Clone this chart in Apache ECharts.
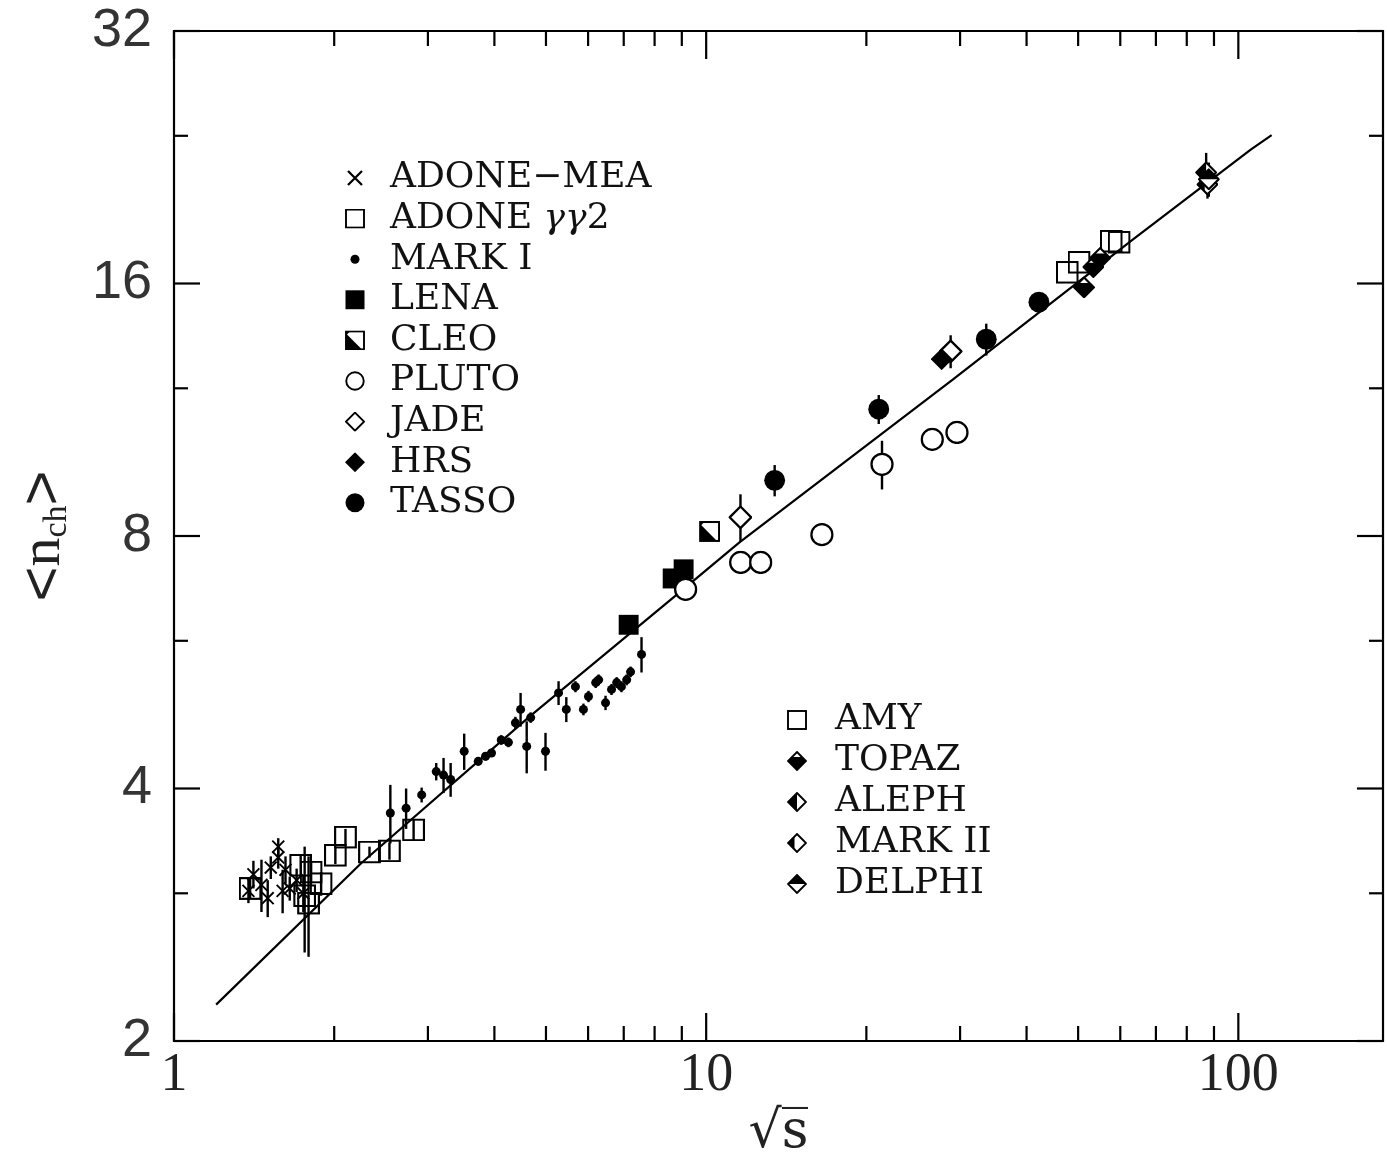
<!DOCTYPE html>
<html>
<head>
<meta charset="utf-8">
<script src="https://cdn.jsdelivr.net/npm/echarts@6/dist/echarts.min.js"></script>
<style>
html,body{margin:0;padding:0;background:#fff;}
#chart{width:1387px;height:1168px;}
</style>
</head>
<body>
<div id="chart"></div>
<script>
// ---------------- data ----------------
// each point: [sqrt(s) in GeV, <n_ch>, symmetric error]
const xTickLabels = [1, 10, 100];
const yTickLabels = [2, 4, 8, 16, 32];
const xMinorTicks = [2, 3, 4, 5, 6, 7, 8, 9, 20, 30, 40, 50, 60, 70, 80, 90];
const yMinorTicks = [3, 6, 12, 24];

const adoneMea = [
  [1.38, 3.02, 0.10], [1.41, 3.16, 0.12], [1.46, 3.07, 0.22], [1.50, 2.96, 0.15],
  [1.52, 3.22, 0.10], [1.57, 3.31, 0.10], [1.57, 3.41, 0.08], [1.60, 3.02, 0.18],
  [1.62, 3.20, 0.12], [1.65, 3.04, 0.10], [1.70, 3.11, 0.10], [1.75, 3.00, 0.15]
];
const adoneGG2 = [
  [1.39, 3.04, 0.08], [1.73, 3.24, 0.10], [1.76, 2.98, 0.43], [1.79, 2.92, 0.40],
  [1.81, 3.18, 0.10], [1.89, 3.08, 0.10], [2.01, 3.33, 0.08], [2.10, 3.50, 0.08],
  [2.33, 3.36, 0.05], [2.54, 3.37, 0.08], [2.82, 3.57, 0.10]
];
const markI = [
  [2.55, 3.74, 0.30], [2.73, 3.79, 0.21], [2.92, 3.93, 0.08], [3.11, 4.19, 0.10],
  [3.21, 4.15, 0.20], [3.31, 4.10, 0.19], [3.51, 4.43, 0.22], [3.73, 4.31, 0.05],
  [3.85, 4.37, 0.05], [3.95, 4.41, 0.05], [4.12, 4.57, 0.06], [4.25, 4.54, 0.06],
  [4.38, 4.79, 0.08], [4.48, 4.97, 0.23], [4.60, 4.49, 0.32], [4.68, 4.86, 0.07],
  [4.99, 4.43, 0.23], [5.28, 5.20, 0.17], [5.46, 4.97, 0.17], [5.68, 5.29, 0.08],
  [5.88, 4.97, 0.08], [6.01, 5.15, 0.08], [6.20, 5.35, 0.08], [6.28, 5.39, 0.08],
  [6.47, 5.06, 0.10], [6.64, 5.25, 0.08], [6.79, 5.35, 0.08], [6.93, 5.29, 0.08],
  [7.09, 5.39, 0.08], [7.21, 5.51, 0.08], [7.56, 5.78, 0.28]
];
const lena = [[7.15, 6.27, 0], [8.65, 7.12, 0], [9.07, 7.30, 0]];
const cleo = [[10.15, 8.10, 0]];
const pluto = [
  [9.15, 6.91, 0], [11.61, 7.44, 0], [12.66, 7.44, 0], [16.5, 8.03, 0],
  [21.4, 9.74, 0.65], [26.6, 10.43, 0], [29.6, 10.63, 0]
];
const jade = [[11.6, 8.42, 0.55], [28.8, 13.28, 0.60]];
const hrs = [[27.7, 13.0, 0]];
const tasso = [[13.45, 9.32, 0.40], [21.1, 11.33, 0.45], [33.6, 13.73, 0.60], [42.2, 15.20, 0.30]];
const amy = [[47.7, 16.5, 0], [50.2, 16.96, 0], [57.7, 17.97, 0], [59.7, 17.92, 0]];
const topaz = [[51.3, 15.83, 0], [53.4, 16.74, 0], [55.0, 17.16, 0]];
const aleph = [[87.0, 21.7, 1.2]];
const markII = [[87.5, 21.0, 0.8]];
const delphi = [[88.0, 21.3, 1.0]];
const fitCurve = [
  [1.20, 2.21], [2.25, 3.26], [4.65, 4.87], [8.9, 6.85], [11.55, 7.86],
  [29.1, 12.3], [63.5, 18.07], [105.5, 23.1], [115.5, 24.05]
];

// ---------------- symbols ----------------
function svg(inner) {
  return 'image://data:image/svg+xml;charset=utf-8,' + encodeURIComponent(
    '<svg xmlns="http://www.w3.org/2000/svg" width="40" height="40" viewBox="0 0 40 40">' + inner + '</svg>');
}
const S = 'stroke="#000" stroke-width="3.8"';
const DIA = '20,2 38,20 20,38 2,20';
const SYM = {
  cross: svg('<path d="M6,6 L34,34 M34,6 L6,34" fill="none" stroke="#000" stroke-width="4.5"/>'),
  openSquare: svg('<rect x="2" y="2" width="36" height="36" fill="none" ' + S + '/>'),
  dot: svg('<circle cx="20" cy="20" r="9" fill="#000"/>'),
  filledSquare: svg('<rect x="1" y="1" width="38" height="38" fill="#000"/>'),
  cleo: svg('<rect x="2" y="2" width="36" height="36" fill="#fff" ' + S + '/><polygon points="2,6 34,38 2,38" fill="#000"/><polygon points="2,2 10,2 2,10" fill="#000"/>'),
  openCircle: svg('<circle cx="20" cy="20" r="17.5" fill="#fff" ' + S + '/>'),
  openDiamond: svg('<polygon points="' + DIA + '" fill="#fff" ' + S + '/>'),
  filledDiamond: svg('<polygon points="20,0 40,20 20,40 0,20" fill="#000"/>'),
  filledCircle: svg('<circle cx="20" cy="20" r="19" fill="#000"/>'),
  topaz: svg('<polygon points="' + DIA + '" fill="#fff" ' + S + '/><polygon points="10,12 30,12 38,20 20,38 2,20" fill="#000"/>'),
  aleph: svg('<polygon points="' + DIA + '" fill="#fff" ' + S + '/><polygon points="20,2 20,38 2,20" fill="#000"/>'),
  markII: svg('<polygon points="' + DIA + '" fill="#fff" ' + S + '/><polygon points="15,7 15,33 2,20" fill="#000"/>'),
  delphi: svg('<polygon points="' + DIA + '" fill="#fff" ' + S + '/><polygon points="20,2 38,20 2,20" fill="#000"/>')
};

// ---------------- options ----------------
const X_MIN = 1, X_MAX = 187, Y_MIN = 2, Y_MAX = 32;

const experiments = [
  { name: 'ADONE\u2212MEA', data: adoneMea, sym: SYM.cross, size: 17 },
  { name: 'ADONE \u03b3\u03b32', data: adoneGG2, sym: SYM.openSquare, size: 23 },
  { name: 'MARK I', data: markI, sym: SYM.dot, size: 20 },
  { name: 'LENA', data: lena, sym: SYM.filledSquare, size: 21 },
  { name: 'CLEO', data: cleo, sym: SYM.cleo, size: 21 },
  { name: 'PLUTO', data: pluto, sym: SYM.openCircle, size: 24 },
  { name: 'JADE', data: jade, sym: SYM.openDiamond, size: 24 },
  { name: 'HRS', data: hrs, sym: SYM.filledDiamond, size: 22 },
  { name: 'TASSO', data: tasso, sym: SYM.filledCircle, size: 22 },
  { name: 'AMY', data: amy, sym: SYM.openSquare, size: 23 },
  { name: 'TOPAZ', data: topaz, sym: SYM.topaz, size: 22 },
  { name: 'ALEPH', data: aleph, sym: SYM.aleph, size: 22 },
  { name: 'MARK II', data: markII, sym: SYM.markII, size: 22 },
  { name: 'DELPHI', data: delphi, sym: SYM.delphi, size: 22 }
];

const errData = [];
experiments.forEach(e => e.data.forEach(p => {
  if (p[2] > 0) errData.push([p[0], p[1] - p[2], p[1] + p[2]]);
}));

const tickData = [];
xTickLabels.forEach(v => tickData.push([v, Y_MIN, 1]));
xMinorTicks.forEach(v => tickData.push([v, Y_MIN, 0]));
yTickLabels.forEach(v => tickData.push([X_MIN, v, 3]));
yMinorTicks.forEach(v => tickData.push([X_MIN, v, 2]));

function isPow(v, b) {
  const l = Math.log(v) / Math.log(b);
  return Math.abs(l - Math.round(l)) < 1e-6;
}

const series = [];
series.push({
  type: 'line', name: 'fit', data: fitCurve, showSymbol: false, symbol: 'none',
  smooth: false, lineStyle: { color: '#000', width: 2.2, opacity: 1 },
  z: 2, silent: true
});
series.push({
  type: 'custom', name: 'err', data: errData, z: 3, silent: true,
  renderItem: function (params, api) {
    const a = api.coord([api.value(0), api.value(1)]);
    const b = api.coord([api.value(0), api.value(2)]);
    return { type: 'line', shape: { x1: a[0], y1: a[1], x2: b[0], y2: b[1] },
      style: { stroke: '#000', lineWidth: 2.4 } };
  }
});
series.push({
  type: 'custom', name: 'ticks', data: tickData, z: 5, silent: true, clip: false,
  renderItem: function (params, api) {
    const t = api.value(2);
    const bl = api.coord([X_MIN, Y_MIN]);
    const tr = api.coord([X_MAX, Y_MAX]);
    const st = { stroke: '#000', lineWidth: 2.2 };
    if (t < 2) {
      const p = api.coord([api.value(0), Y_MIN]);
      const len = t === 1 ? 28 : 15;
      return { type: 'group', children: [
        { type: 'line', shape: { x1: p[0], y1: bl[1], x2: p[0], y2: bl[1] - len }, style: st },
        { type: 'line', shape: { x1: p[0], y1: tr[1], x2: p[0], y2: tr[1] + len }, style: st }
      ]};
    } else {
      const p = api.coord([X_MIN, api.value(1)]);
      const len = t === 3 ? 26 : 14;
      return { type: 'group', children: [
        { type: 'line', shape: { x1: bl[0], y1: p[1], x2: bl[0] + len, y2: p[1] }, style: st },
        { type: 'line', shape: { x1: tr[0], y1: p[1], x2: tr[0] - len, y2: p[1] }, style: st }
      ]};
    }
  }
});
experiments.forEach(e => {
  series.push({
    type: 'scatter', name: e.name, data: e.data.map(p => [p[0], p[1]]),
    symbol: e.sym, symbolSize: e.size, z: 4, silent: true,
    itemStyle: { opacity: 1 }
  });
});

const legendText = {
  fontFamily: 'DejaVu Serif', fontSize: 36, color: '#111', lineHeight: 40,
  rich: {
    g: { fontFamily: 'DejaVu Serif', fontStyle: 'italic', fontSize: 36, color: '#111', lineHeight: 40 },
    t: { fontFamily: 'DejaVu Serif', fontSize: 36, color: '#111', lineHeight: 40 }
  }
};
function legendFmt(name) {
  if (name === 'ADONE \u03b3\u03b32') return '{t|ADONE }{g|\u03b3\u03b3}{t|2}';
  return '{t|' + name + '}';
}

const option = {
  animation: false,
  backgroundColor: '#fff',
  grid: { left: 174, top: 31, right: 4, bottom: 127, show: true, borderColor: '#000', borderWidth: 2.2, backgroundColor: 'transparent' },
  legend: [
    {
      data: experiments.slice(0, 9).map(e => e.name),
      orient: 'vertical', left: 345, top: 158, padding: 0,
      itemWidth: 20, itemHeight: 20, itemGap: 0.6, selectedMode: false,
      formatter: legendFmt, itemStyle: { opacity: 1 },
      textStyle: Object.assign({ padding: [0, 0, 0, 20] }, legendText)
    },
    {
      data: experiments.slice(9).map(e => e.name),
      orient: 'vertical', left: 787, top: 700, padding: 0,
      itemWidth: 20, itemHeight: 20, itemGap: 1, selectedMode: false,
      formatter: legendFmt, itemStyle: { opacity: 1 },
      textStyle: Object.assign({ padding: [0, 0, 0, 23] }, legendText)
    }
  ],
  xAxis: {
    type: 'log', logBase: 10, min: X_MIN, max: X_MAX,
    axisLine: { show: false }, axisTick: { show: false }, splitLine: { show: false },
    axisLabel: {
      fontFamily: 'Liberation Serif', fontSize: 54, color: '#222', margin: 8,
      formatter: v => (isPow(v, 10) ? String(Math.round(v)) : '')
    },
    name: '\u221As\u0305', nameLocation: 'middle', nameGap: 66,
    nameTextStyle: { fontFamily: 'DejaVu Serif', fontSize: 52, color: '#222' }
  },
  yAxis: {
    type: 'log', logBase: 2, min: Y_MIN, max: Y_MAX,
    axisLine: { show: false }, axisTick: { show: false }, splitLine: { show: false },
    axisLabel: {
      fontFamily: 'Liberation Sans', fontSize: 54, color: '#333', margin: 22,
      formatter: v => (isPow(v, 2) ? String(Math.round(v)) : '')
    },
    name: '{a|<}{n|n}{s|ch}{a|>}', nameLocation: 'middle', nameRotate: 90, nameGap: 100,
    nameTextStyle: {
      color: '#222',
      rich: {
        a: { fontFamily: 'Liberation Sans', fontSize: 60, color: '#222' },
        n: { fontFamily: 'Liberation Serif', fontSize: 58, color: '#222' },
        s: { fontFamily: 'Liberation Serif', fontSize: 34, color: '#222', verticalAlign: 'bottom', padding: [14, 0, 0, 0] }
      }
    }
  },
  series: series
};

const chart = echarts.init(document.getElementById('chart'), null, { renderer: 'canvas' });
chart.setOption(option);
</script>
</body>
</html>
